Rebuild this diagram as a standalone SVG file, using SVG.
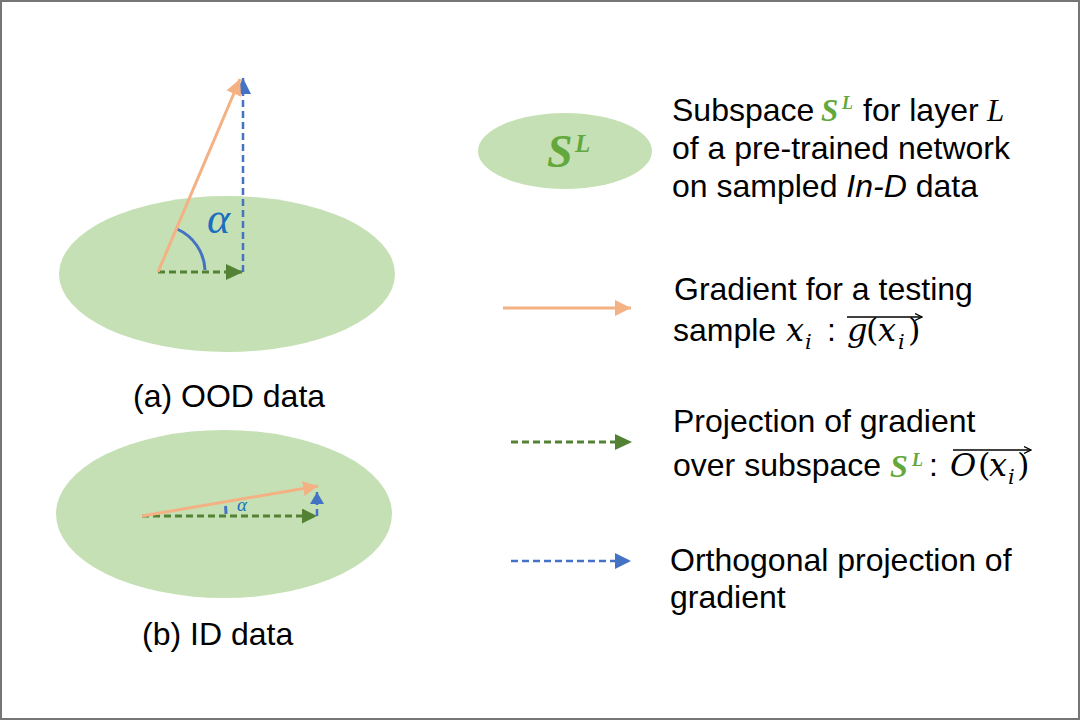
<svg xmlns="http://www.w3.org/2000/svg" width="1080" height="720" viewBox="0 0 1080 720">
<style>
.t{font-family:"Liberation Sans",Arial,sans-serif;font-size:32px;fill:#000}
.mi{font-family:"DejaVu Serif","Liberation Serif",serif;font-style:italic;font-size:32px;fill:#000}
.up{font-family:"DejaVu Serif","Liberation Serif",serif;font-size:32px;fill:#000}
.sub{font-family:"DejaVu Serif","Liberation Serif",serif;font-style:italic;font-size:21px;fill:#000}
.sg{font-family:"Liberation Serif","DejaVu Serif",serif;font-style:italic;font-weight:bold;fill:#62a83c}
.sub-ellipse{fill:#c5e0b4}
.grad{stroke:#f4b183;stroke-width:3;fill:none}
.proj{stroke:#548235;stroke-width:3;fill:none;stroke-dasharray:7 4}
.orth{stroke:#4472c4;stroke-width:2.5;fill:none;stroke-dasharray:7 4}
.arc{stroke:#4472c4;stroke-width:3;fill:none}
.ovl{stroke:#000;stroke-width:1.3;fill:none}
</style>
<defs>
<marker id="aO" markerUnits="userSpaceOnUse" markerWidth="17" markerHeight="16" refX="16" refY="8" orient="auto"><path d="M0,0 L16,8 L0,16 z" fill="#f4b183"/></marker>
<marker id="aG" markerUnits="userSpaceOnUse" markerWidth="18" markerHeight="16" refX="17" refY="8" orient="auto"><path d="M0,0 L17,8 L0,16 z" fill="#548235"/></marker>
<marker id="aB" markerUnits="userSpaceOnUse" markerWidth="17" markerHeight="16" refX="16" refY="8" orient="auto"><path d="M0,0 L16,8 L0,16 z" fill="#4472c4"/></marker>
<marker id="aBs" markerUnits="userSpaceOnUse" markerWidth="13" markerHeight="14" refX="12" refY="7" orient="auto"><path d="M0,0 L12,7 L0,14 z" fill="#4472c4"/></marker>
<marker id="aGs" markerUnits="userSpaceOnUse" markerWidth="16" markerHeight="15" refX="15" refY="7.5" orient="auto"><path d="M0,0 L15,7.5 L0,15 z" fill="#548235"/></marker>
<marker id="aOs" markerUnits="userSpaceOnUse" markerWidth="16" markerHeight="15" refX="15" refY="7.5" orient="auto"><path d="M0,0 L15,7.5 L0,15 z" fill="#f4b183"/></marker>
<marker id="ov" markerUnits="userSpaceOnUse" markerWidth="8" markerHeight="8" refX="7" refY="4" orient="auto"><path d="M0,0.5 L7,4 L0,7.5" fill="none" stroke="#000" stroke-width="1.2"/></marker>
</defs>
<rect x="1" y="1" width="1078" height="718" fill="#fff" stroke="#767676" stroke-width="2"/>

<g id="ood-subspace">
<ellipse class="sub-ellipse" cx="227" cy="274" rx="168" ry="78"/>
<text class="t" x="133" y="407">(a) OOD data</text>
</g>

<g id="id-subspace">
<ellipse class="sub-ellipse" cx="224" cy="514" rx="168" ry="84"/>
<text class="t" x="142" y="645">(b) ID data</text>
</g>

<g id="connectors">
<path class="arc" d="M177,229 A47,47 0 0 1 205,270"/>
<line class="proj" x1="158" y1="272" x2="243" y2="272" marker-end="url(#aG)"/>
<line class="orth" x1="243" y1="272" x2="243" y2="78" marker-end="url(#aB)"/>
<line class="grad" x1="158" y1="272" x2="240" y2="79" marker-end="url(#aO)"/>
<path class="arc" stroke-width="2" d="M225.5,506 A84,84 0 0 1 226,514"/>
<line class="proj" x1="142" y1="516" x2="317" y2="516" marker-end="url(#aGs)"/>
<line class="orth" x1="317" y1="516" x2="317" y2="492" marker-end="url(#aBs)"/>
<line class="grad" x1="142" y1="516" x2="318" y2="486" marker-end="url(#aOs)"/>
</g>
<text x="207" y="233" font-family="Liberation Serif, DejaVu Serif, serif" font-style="italic" font-size="44" fill="#1a6fc0">α</text>
<text x="237" y="511" font-family="Liberation Serif, DejaVu Serif, serif" font-style="italic" font-size="19" fill="#1a6fc0">α</text>

<g id="legend-subspace">
<ellipse class="sub-ellipse" cx="565" cy="151" rx="87" ry="38"/>
<text class="sg" x="547" y="167" font-size="46">S</text>
<text class="sg" x="575" y="152" font-size="25">L</text>
<text class="t" x="672" y="121">Subspace</text>
<text class="sg" x="821" y="121" font-size="31">S</text>
<text class="sg" x="842" y="109" font-size="18">L</text>
<text class="t" x="863" y="121">for layer</text>
<text x="987" y="121" font-family="Liberation Serif, DejaVu Serif, serif" font-style="italic" font-size="31">L</text>
<text class="t" x="672" y="159">of a pre-trained network</text>
<text class="t" x="672" y="197">on sampled <tspan font-style="italic">In-D</tspan> data</text>
</g>

<g id="legend-gradient">
<line class="grad" x1="503" y1="308" x2="631" y2="308" marker-end="url(#aO)"/>
<text class="t" x="674" y="300">Gradient for a testing</text>
<text class="t" x="673" y="341">sample</text>
<text class="mi" x="786" y="341">x</text>
<text class="sub" x="805" y="349">i</text>
<text class="t" x="827" y="341">:</text>
<text class="mi" x="847" y="341">g</text>
<text class="up" x="866" y="341">(</text>
<text class="mi" x="878" y="341">x</text>
<text class="sub" x="898" y="349">i</text>
<text class="up" x="908" y="341">)</text>
<line class="ovl" x1="847" y1="317" x2="922" y2="317" marker-end="url(#ov)"/>
</g>

<g id="legend-projection">
<line class="proj" x1="511" y1="442" x2="632" y2="442" marker-end="url(#aG)"/>
<text class="t" x="673" y="432">Projection of gradient</text>
<text class="t" x="673" y="476">over subspace</text>
<text class="sg" x="890" y="477" font-size="32">S</text>
<text class="sg" x="912" y="466" font-size="18">L</text>
<text class="t" x="929" y="476" font-size="22">:</text>
<text class="mi" x="950" y="476" font-size="30">O</text>
<text class="up" x="978" y="476">(</text>
<text class="mi" x="989" y="476">x</text>
<text class="sub" x="1008" y="484">i</text>
<text class="up" x="1017" y="476">)</text>
<line class="ovl" x1="953" y1="450" x2="1031" y2="450" marker-end="url(#ov)"/>
</g>

<g id="legend-orthogonal">
<line class="orth" x1="511" y1="561" x2="631" y2="561" marker-end="url(#aB)"/>
<text class="t" x="670" y="571">Orthogonal projection of</text>
<text class="t" x="670" y="608">gradient</text>
</g>
</svg>
